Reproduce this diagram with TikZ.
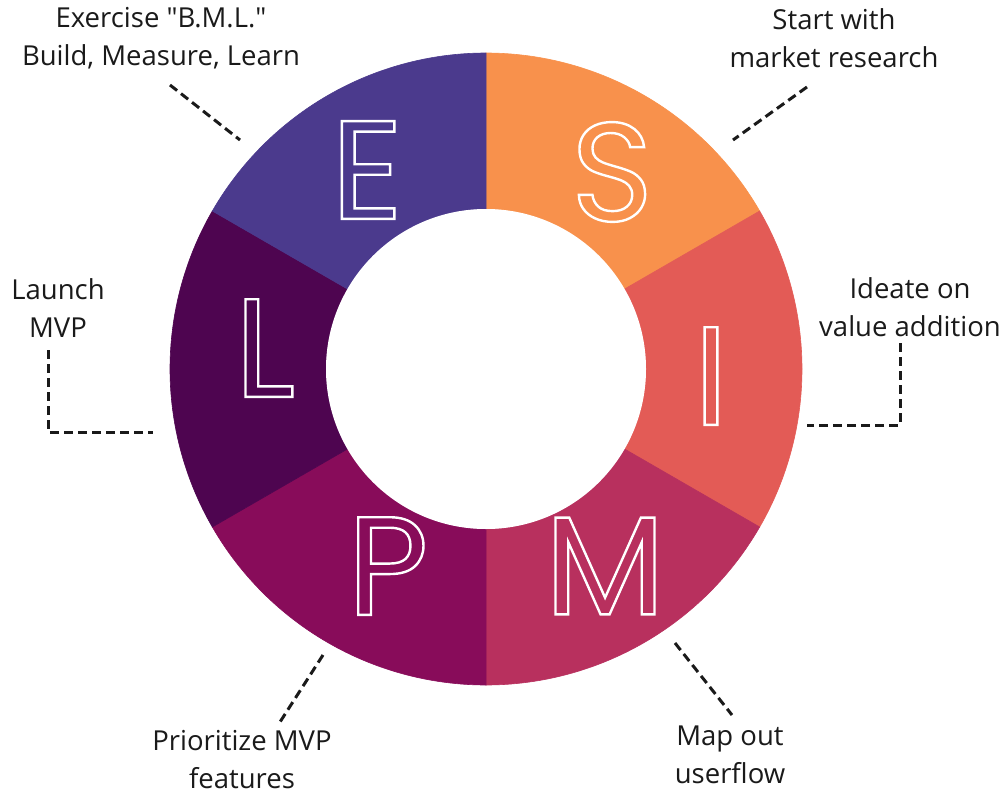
\documentclass[tikz,border=0pt]{standalone}
\usepackage{fontspec}
\setmainfont{Open Sans}[Ligatures=TeXOff]
\newfontfamily\letterfont{Poppins}
\usetikzlibrary{calc}
\definecolor{cS}{HTML}{F8914C}
\definecolor{cI}{HTML}{E35B56}
\definecolor{cM}{HTML}{B8305E}
\definecolor{cP}{HTML}{880C5A}
\definecolor{cL}{HTML}{4E0550}
\definecolor{cE}{HTML}{4B3A8D}
\definecolor{txt}{HTML}{1A1A1A}
\newcommand{\ringletter}[1]{\special{pdf:literal direct 1 1 1 RG 2.4 w 1 Tr}#1\special{pdf:literal direct 0 Tr}}
\begin{document}
\begin{tikzpicture}[x=1pt,y=-1pt,
  lbl/.style={font=\fontsize{27.5}{38}\selectfont, align=center, text=txt, inner sep=0pt},
  lead/.style={line width=3pt, dash pattern=on 9pt off 5pt, draw=txt},
  big/.style={font=\fontsize{140}{140}\selectfont\letterfont, inner sep=0pt}]
\useasboundingbox (0,0) rectangle (1006,795);
\coordinate (c) at (486,369);
\foreach \a/\b/\col in {30/90/cS, -30/30/cI, -90/-30/cM, -150/-90/cP, 150/210/cL, 90/150/cE}
  \fill[\col, draw=\col, line width=0.6pt] ($(c)+(-\a:316)$) arc[start angle=-\a, end angle=-\b, radius=316]
     -- ($(c)+(-\b:160)$) arc[start angle=-\b, end angle=-\a, radius=160] -- cycle;
\fill[white] (c) circle[radius=160];
% letters
\node[big] (E) at (367,170) {\ringletter{E}};
\node[big] (S) at (612,172) {\ringletter{S}};
\node[big] (I) at (711,376) {\ringletter{I}};
\node[big] (L) at (265,348) {\ringletter{L}};
\node[big] (P) at (388,566) {\ringletter{P}};
\node[big] (M) at (605,566) {\ringletter{M}};
% labels
\node[lbl] (tE) at (161,38) {Exercise "B.M.L."\\Build, Measure, Learn};
\node[lbl] (tS) at (834,38) {Start with\\market research};
\node[lbl] (tI) at (910,307) {Ideate on\\value addition};
\node[lbl] (tL) at (58,308) {Launch\\MVP};
\node[lbl] (tP) at (242,760) {Prioritize MVP\\features};
\node[lbl] (tM) at (730,755) {Map out\\userflow};
% leader lines
\coordinate (eA) at (170,85); \coordinate (eB) at (240,140);
\coordinate (sA) at (807,87); \coordinate (sB) at (733,140);
\coordinate (iA) at (900,343); \coordinate (iB) at (900,425); \coordinate (iC) at (807,425);
\coordinate (lA) at (48,350); \coordinate (lB) at (48,432); \coordinate (lC) at (153,432);
\coordinate (pA) at (323,655); \coordinate (pB) at (280,722);
\coordinate (mA) at (675,643); \coordinate (mB) at (732,715);
\draw[lead] (eA) -- (eB);
\draw[lead] (sA) -- (sB);
\draw[lead] (iA) -- (iB) -- (iC);
\draw[lead] (lA) -- (lB) -- (lC);
\draw[lead] (pA) -- (pB);
\draw[lead] (mA) -- (mB);
\end{tikzpicture}
\end{document}
